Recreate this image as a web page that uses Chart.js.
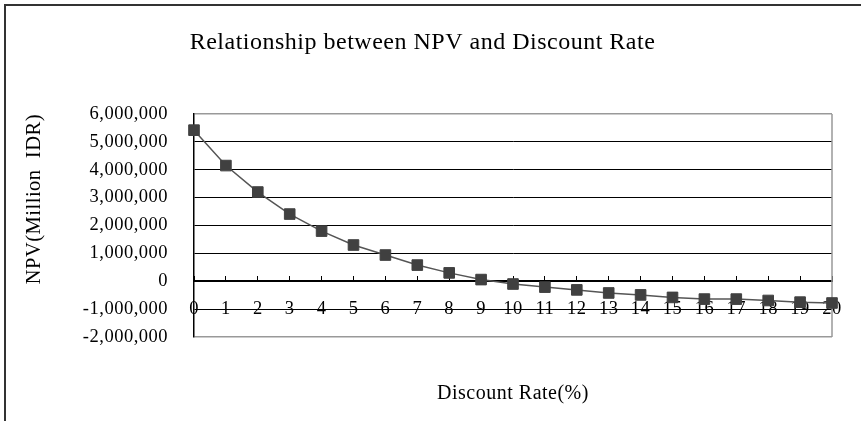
<!DOCTYPE html>
<html>
<head>
<meta charset="utf-8">
<title>NPV vs Discount Rate</title>
<script src="https://cdn.jsdelivr.net/npm/chart.js@4.4.1/dist/chart.umd.min.js"></script>
<style>
  html, body { margin: 0; padding: 0; background: #fff; }
  #wrap { width: 861px; height: 421px; position: relative; }
</style>
</head>
<body>
<div id="wrap"><canvas id="npvChart"></canvas></div>
<script>
// discount rate categories (%)
const rates = ['0','1','2','3','4','5','6','7','8','9','10','11','12','13','14','15','16','17','18','19','20'];
// NPV values (Million IDR)
const npv = [5420000, 4150000, 3200000, 2410000, 1800000, 1300000, 940000, 580000, 300000, 60000,
             -100000, -210000, -310000, -420000, -490000, -580000, -640000, -640000, -690000, -750000, -780000];
// y axis range / step
const yMin = -2000000;
const yMax = 6000000;
const yStep = 1000000;

const serif = 'Liberation Serif, "Times New Roman", serif';

// outer frame + letter spacing for the whole canvas
const framePlugin = {
  id: 'frame',
  beforeDraw(chart){
    const c = chart.ctx;
    c.letterSpacing = '0.5px';
    c.save();
    c.strokeStyle = '#333';
    c.lineWidth = 2;
    c.beginPath();
    c.moveTo(5, 421);
    c.lineTo(5, 5);
    c.lineTo(861, 5);
    c.stroke();
    c.restore();
  },
  beforeDatasetsDraw(chart){
    const a = chart.chartArea, c = chart.ctx;
    c.save();
    c.strokeStyle = '#999';
    c.lineWidth = 1.5;
    c.beginPath();
    c.moveTo(a.right, a.top);
    c.lineTo(a.right, a.bottom);
    c.stroke();
    c.restore();
  }
};

new Chart(document.getElementById('npvChart'), {
  type: 'line',
  data: {
    labels: rates,
    datasets: [{
      data: npv,
      borderColor: '#555',
      borderWidth: 1.5,
      tension: 0,
      pointStyle: 'rect',
      pointRadius: 7.5,
      pointBackgroundColor: '#404040',
      pointBorderColor: '#404040',
      pointBorderWidth: 1
    }]
  },
  options: {
    responsive: true,
    maintainAspectRatio: false,
    animation: false,
    layout: { padding: { top: 0, right: 16, bottom: 84, left: 0 } },
    plugins: {
      legend: { display: false },
      tooltip: { enabled: false },
      title: {
        display: true,
        text: 'Relationship between NPV and Discount Rate',
        color: '#000',
        font: { family: serif, size: 24, weight: 'normal' },
        padding: { top: 28.6, bottom: 56.6 }
      }
    },
    scales: {
      x: {
        type: 'category',
        offset: false,
        position: { y: 0 },
        grid: { drawOnChartArea: false, color: '#000', tickLength: -6, lineWidth: 1 },
        border: { display: true, color: '#000', width: 2 },
        ticks: { color: '#000', font: { family: serif, size: 18.5 }, padding: 22.5, maxRotation: 0, autoSkip: false },
        title: {
          display: true,
          text: 'Discount Rate(%)',
          color: '#000',
          font: { family: serif, size: 20 },
          padding: { top: 0, bottom: 0 }
        },
        afterFit(scale){
          scale.height = 124;
          scale.paddingLeft = 0;
          scale.paddingRight = 29;
        }
      },
      y: {
        min: yMin,
        max: yMax,
        grid: {
          color: ctx => (ctx.tick && (ctx.tick.value === yMax || ctx.tick.value === yMin)) ? '#999' : '#000',
          lineWidth: ctx => (ctx.tick && (ctx.tick.value === yMax || ctx.tick.value === yMin)) ? 1.5 : 1,
          drawTicks: false
        },
        border: { display: true, color: '#000', width: 1.5 },
        ticks: {
          stepSize: yStep,
          color: '#000',
          padding: 26,
          font: { family: serif, size: 18.5 },
          callback: v => v.toLocaleString('en-US')
        },
        title: {
          display: true,
          text: 'NPV(Million  IDR)',
          align: 'end',
          color: '#000',
          font: { family: serif, size: 20.5 },
          padding: { top: 22.7, bottom: 0 }
        },
        afterFit(scale){
          scale.width = 194;
        }
      }
    }
  },
  plugins: [framePlugin]
});
</script>
</body>
</html>
